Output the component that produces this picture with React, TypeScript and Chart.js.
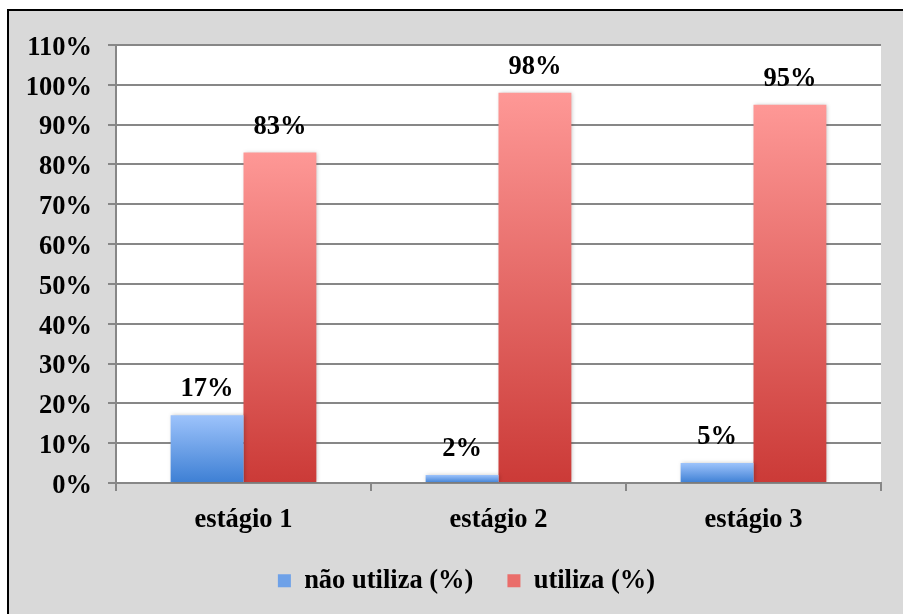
import React, { useEffect, useRef } from "react";
import { Chart, registerables } from "chart.js";

Chart.register(...registerables);

// Stages on the category axis
const stages = ["estágio 1", "estágio 2", "estágio 3"];
// Share (%) of respondents per stage
const naoUtiliza = [17, 2, 5];
const utiliza = [83, 98, 95];
const seriesNames = ["não utiliza (%)", "utiliza (%)"];
// Value axis range
const yMin = 0;
const yMax = 110;
const yStep = 10;

const FONT = '"Liberation Serif", "Times New Roman", Times, serif';
const FONT_SIZE = 26.5;
const AXIS_GRAY = "#878787";

const BLUE_TOP = "#9dc3fb";
const BLUE_BOTTOM = "#3d7fd4";
const RED_TOP = "#fe9896";
const RED_BOTTOM = "#cb3a37";

// Vertical gradient spanning each bar from its top to the baseline
function barGradient(top: string, bottom: string) {
  return (ctx: any) => {
    const chart = ctx.chart;
    const area = chart.chartArea;
    const yScale = chart.scales?.y;
    if (!area || !yScale || ctx.type !== "data") return bottom;
    const v = ctx.raw as number;
    const yTop = yScale.getPixelForValue(v);
    const yBase = yScale.getPixelForValue(0);
    if (!(yBase - yTop > 0)) return bottom;
    const g = chart.ctx.createLinearGradient(0, yTop, 0, yBase);
    g.addColorStop(0, top);
    g.addColorStop(1, bottom);
    return g;
  };
}

const plotBackground = {
  id: "plotBackground",
  beforeDraw(chart: any) {
    const { ctx, chartArea: a } = chart;
    if (!a) return;
    ctx.save();
    ctx.fillStyle = "#ffffff";
    ctx.fillRect(a.left, a.top, a.right - a.left, a.bottom - a.top);
    ctx.restore();
  },
};

// Legend row is centred over the framed panel rather than the full canvas
const legendOffset = {
  id: "legendOffset",
  afterLayout(chart: any) {
    if (chart.legend) chart.legend.left = 52;
  },
};

const barShadow = {
  id: "barShadow",
  beforeDatasetsDraw(chart: any) {
    const ctx = chart.ctx;
    ctx.save();
    ctx.shadowColor = "rgba(0,0,0,0.22)";
    ctx.shadowBlur = 4;
    ctx.shadowOffsetX = 1;
    ctx.shadowOffsetY = 0;
  },
  afterDatasetsDraw(chart: any) {
    chart.ctx.restore();
  },
};

const valueLabels = {
  id: "valueLabels",
  afterDatasetsDraw(chart: any) {
    const ctx = chart.ctx;
    ctx.save();
    ctx.font = `bold ${FONT_SIZE}px ${FONT}`;
    ctx.fillStyle = "#000000";
    ctx.textAlign = "center";
    ctx.textBaseline = "alphabetic";
    chart.data.datasets.forEach((ds: any, i: number) => {
      chart.getDatasetMeta(i).data.forEach((bar: any, j: number) => {
        ctx.fillText(`${ds.data[j]}%`, bar.x, bar.y - 19);
      });
    });
    ctx.restore();
  },
};

export default function App() {
  const canvasRef = useRef<HTMLCanvasElement | null>(null);

  useEffect(() => {
    const canvas = canvasRef.current;
    if (!canvas) return;
    const tickFont = { family: FONT, size: FONT_SIZE, weight: "bold" as const };
    const legendColors = ["#6ea1e8", "#ea6d6a"];

    const chart = new Chart(canvas, {
      type: "bar",
      data: {
        labels: stages,
        datasets: [
          {
            label: seriesNames[0],
            data: naoUtiliza,
            backgroundColor: barGradient(BLUE_TOP, BLUE_BOTTOM),
            borderWidth: 0,
          },
          {
            label: seriesNames[1],
            data: utiliza,
            backgroundColor: barGradient(RED_TOP, RED_BOTTOM),
            borderWidth: 0,
          },
        ],
      },
      options: {
        responsive: false,
        animation: false,
        devicePixelRatio: 1,
        layout: { padding: { left: 0, right: 22, top: 45, bottom: 10 } },
        datasets: {
          bar: { categoryPercentage: 2 / 3.5, barPercentage: 1 },
        },
        scales: {
          x: {
            offset: true,
            grid: {
              display: true,
              offset: true,
              drawOnChartArea: false,
              drawTicks: true,
              tickLength: 8,
              color: AXIS_GRAY,
              lineWidth: 2,
            },
            border: { display: true, color: AXIS_GRAY, width: 2 },
            ticks: {
              color: "#000000",
              font: tickFont,
              padding: 13,
              maxRotation: 0,
              autoSkip: false,
            },
            afterFit(scale: any) {
              scale.height = 50.5;
            },
          },
          y: {
            min: yMin,
            max: yMax,
            grid: {
              color: AXIS_GRAY,
              lineWidth: 2,
              drawTicks: true,
              tickLength: 8,
            },
            border: { display: true, color: AXIS_GRAY, width: 2 },
            ticks: {
              stepSize: yStep,
              color: "#000000",
              font: tickFont,
              padding: 16,
              labelOffset: 3,
              callback: (v: any) => `${v}%`,
            },
            afterFit(scale: any) {
              scale.width = 116;
            },
          },
        },
        plugins: {
          legend: {
            position: "bottom",
            labels: {
              boxWidth: 13,
              boxHeight: 13,
              padding: 34,
              color: "#000000",
              font: tickFont,
              generateLabels: () =>
                seriesNames.map((text, i) => ({
                  text,
                  fillStyle: legendColors[i],
                  strokeStyle: legendColors[i],
                  lineWidth: 0,
                  hidden: false,
                  datasetIndex: i,
                })),
            },
          },
          tooltip: { enabled: false },
        },
      },
      plugins: [plotBackground, legendOffset, barShadow, valueLabels],
    } as any);

    return () => chart.destroy();
  }, []);

  return (
    <div
      style={{
        position: "fixed",
        left: 0,
        top: 0,
        width: 903,
        height: 614,
        overflow: "hidden",
        background: "#ffffff",
      }}
    >
      <div
        style={{
          position: "absolute",
          left: 7,
          top: 9,
          width: 920,
          height: 640,
          boxSizing: "border-box",
          borderTop: "2px solid #000",
          borderLeft: "2px solid #000",
          background: "#d9d9d9",
        }}
      />
      <canvas
        ref={canvasRef}
        width={903}
        height={614}
        style={{ position: "absolute", left: 0, top: 0, width: 903, height: 614 }}
      />
    </div>
  );
}
